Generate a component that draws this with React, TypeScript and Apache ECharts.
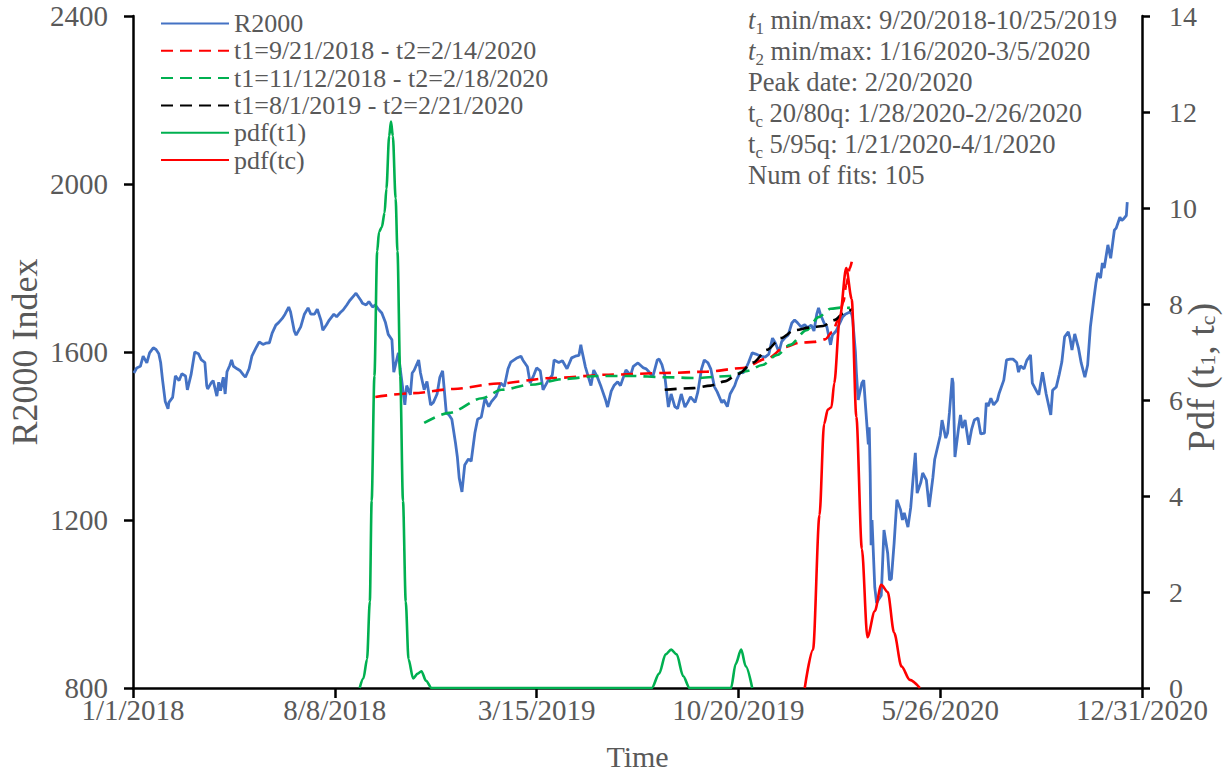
import React, { useEffect, useRef } from "react";
import * as echarts from "echarts";

const FONT = "'Liberation Serif', 'Times New Roman', serif";
const GREY = "#595959";

const seriesNames = [
  "R2000",
  "t1=9/21/2018 - t2=2/14/2020",
  "t1=11/12/2018 - t2=2/18/2020",
  "t1=8/1/2019 - t2=2/21/2020",
  "pdf(t1)",
  "pdf(tc)",
];

const infoLines = [
  "{it|t}{sub|1}{n| min/max: 9/20/2018-10/25/2019}",
  "{it|t}{sub|2}{n| min/max: 1/16/2020-3/5/2020}",
  "{n|Peak date: 2/20/2020}",
  "{n|t}{sub|c}{n| 20/80q: 1/28/2020-2/26/2020}",
  "{n|t}{sub|c}{n| 5/95q: 1/21/2020-4/1/2020}",
  "{n|Num of fits: 105}",
];

const r2000: [string, number][] = [
  ["2018-01-02",1550],["2018-01-05",1562],["2018-01-09",1566],["2018-01-12",1590],["2018-01-16",1574],["2018-01-19",1598],["2018-01-23",1610],["2018-01-26",1606],["2018-01-29",1596],["2018-01-31",1575],["2018-02-02",1535],["2018-02-05",1482],["2018-02-08",1465],["2018-02-09",1480],["2018-02-13",1492],["2018-02-16",1543],["2018-02-20",1532],["2018-02-23",1548],["2018-02-27",1543],["2018-03-01",1510],["2018-03-05",1546],["2018-03-09",1600],["2018-03-13",1596],["2018-03-16",1582],["2018-03-20",1575],["2018-03-22",1520],["2018-03-23",1512],["2018-03-27",1527],["2018-03-29",1532],["2018-04-02",1495],["2018-04-04",1528],["2018-04-06",1508],["2018-04-09",1540],["2018-04-11",1500],["2018-04-13",1553],["2018-04-16",1568],["2018-04-18",1581],["2018-04-20",1566],["2018-04-24",1560],["2018-04-27",1556],["2018-05-01",1545],["2018-05-03",1540],["2018-05-07",1560],["2018-05-10",1590],["2018-05-15",1612],["2018-05-18",1624],["2018-05-22",1618],["2018-05-25",1621],["2018-05-29",1622],["2018-06-01",1645],["2018-06-05",1664],["2018-06-08",1670],["2018-06-12",1680],["2018-06-15",1690],["2018-06-19",1707],["2018-06-21",1695],["2018-06-25",1650],["2018-06-27",1640],["2018-07-02",1660],["2018-07-06",1690],["2018-07-10",1705],["2018-07-13",1690],["2018-07-17",1690],["2018-07-20",1702],["2018-07-24",1675],["2018-07-26",1652],["2018-07-30",1665],["2018-08-02",1676],["2018-08-07",1690],["2018-08-10",1684],["2018-08-14",1694],["2018-08-17",1700],["2018-08-21",1712],["2018-08-24",1722],["2018-08-29",1735],["2018-08-31",1740],["2018-09-05",1724],["2018-09-07",1716],["2018-09-11",1712],["2018-09-14",1720],["2018-09-18",1707],["2018-09-21",1712],["2018-09-25",1700],["2018-09-28",1693],["2018-10-02",1670],["2018-10-05",1642],["2018-10-09",1629],["2018-10-11",1552],["2018-10-16",1598],["2018-10-18",1560],["2018-10-23",1474],["2018-10-25",1520],["2018-10-29",1498],["2018-10-31",1550],["2018-11-02",1556],["2018-11-07",1581],["2018-11-09",1550],["2018-11-13",1510],["2018-11-16",1530],["2018-11-20",1474],["2018-11-23",1480],["2018-11-27",1500],["2018-11-30",1540],["2018-12-03",1555],["2018-12-07",1455],["2018-12-10",1450],["2018-12-13",1440],["2018-12-17",1383],["2018-12-19",1350],["2018-12-21",1300],["2018-12-24",1267],["2018-12-27",1331],["2018-12-31",1345],
  ["2019-01-03",1340],["2019-01-07",1407],["2019-01-10",1440],["2019-01-14",1445],["2019-01-18",1490],["2019-01-22",1470],["2019-01-25",1482],["2019-01-30",1495],["2019-02-04",1526],["2019-02-08",1518],["2019-02-12",1560],["2019-02-15",1576],["2019-02-21",1585],["2019-02-26",1590],["2019-02-28",1581],["2019-03-05",1565],["2019-03-08",1526],["2019-03-12",1545],["2019-03-15",1562],["2019-03-19",1555],["2019-03-22",1510],["2019-03-27",1530],["2019-04-01",1545],["2019-04-03",1581],["2019-04-08",1575],["2019-04-12",1579],["2019-04-17",1560],["2019-04-22",1586],["2019-04-26",1590],["2019-04-30",1592],["2019-05-02",1617],["2019-05-03",1605],["2019-05-07",1564],["2019-05-13",1520],["2019-05-16",1557],["2019-05-20",1540],["2019-05-24",1517],["2019-05-29",1485],["2019-05-31",1469],["2019-06-04",1507],["2019-06-07",1520],["2019-06-11",1529],["2019-06-14",1520],["2019-06-18",1545],["2019-06-20",1557],["2019-06-25",1545],["2019-06-28",1566],["2019-07-03",1574],["2019-07-09",1562],["2019-07-12",1560],["2019-07-16",1550],["2019-07-19",1540],["2019-07-24",1581],["2019-07-26",1583],["2019-07-29",1570],["2019-08-01",1545],["2019-08-05",1469],["2019-08-08",1500],["2019-08-12",1470],["2019-08-15",1465],["2019-08-19",1500],["2019-08-23",1469],["2019-08-26",1480],["2019-08-29",1493],["2019-09-03",1480],["2019-09-06",1505],["2019-09-10",1560],["2019-09-13",1581],["2019-09-17",1574],["2019-09-20",1560],["2019-09-24",1517],["2019-09-27",1505],["2019-10-02",1479],["2019-10-04",1486],["2019-10-08",1470],["2019-10-11",1500],["2019-10-16",1520],["2019-10-18",1533],["2019-10-22",1552],["2019-10-25",1550],["2019-10-28",1560],["2019-10-31",1575],["2019-11-04",1598],["2019-11-08",1595],["2019-11-13",1590],["2019-11-18",1588],["2019-11-22",1595],["2019-11-26",1633],["2019-11-29",1622],["2019-12-03",1600],["2019-12-06",1625],["2019-12-10",1635],["2019-12-13",1640],["2019-12-17",1669],["2019-12-20",1676],["2019-12-23",1670],["2019-12-27",1660],["2019-12-31",1665],
  ["2020-01-03",1658],["2020-01-07",1664],["2020-01-10",1650],["2020-01-13",1690],["2020-01-15",1705],["2020-01-17",1690],["2020-01-21",1669],["2020-01-24",1660],["2020-01-28",1617],["2020-01-30",1640],["2020-02-03",1650],["2020-02-06",1664],["2020-02-10",1683],["2020-02-13",1690],["2020-02-18",1695],["2020-02-20",1690],["2020-02-21",1678],["2020-02-24",1600],["2020-02-25",1552],["2020-02-27",1486],["2020-03-02",1526],["2020-03-04",1533],["2020-03-06",1470],["2020-03-09",1380],["2020-03-10",1421],["2020-03-11",1312],["2020-03-12",1140],["2020-03-13",1200],["2020-03-16",1040],["2020-03-18",1002],["2020-03-20",1010],["2020-03-23",1020],["2020-03-26",1176],["2020-03-30",1121],["2020-04-01",1057],["2020-04-03",1060],["2020-04-06",1145],["2020-04-09",1248],["2020-04-13",1224],["2020-04-15",1200],["2020-04-17",1217],["2020-04-21",1183],["2020-04-24",1230],["2020-04-27",1310],["2020-04-29",1360],["2020-05-01",1264],["2020-05-05",1290],["2020-05-07",1312],["2020-05-11",1295],["2020-05-14",1231],["2020-05-18",1300],["2020-05-20",1344],["2020-05-26",1400],["2020-05-28",1438],["2020-06-01",1395],["2020-06-03",1407],["2020-06-05",1455],["2020-06-08",1538],["2020-06-09",1526],["2020-06-11",1350],["2020-06-15",1420],["2020-06-17",1450],["2020-06-19",1419],["2020-06-22",1438],["2020-06-26",1379],["2020-06-29",1415],["2020-07-02",1438],["2020-07-06",1443],["2020-07-09",1405],["2020-07-13",1407],["2020-07-15",1479],["2020-07-17",1471],["2020-07-20",1490],["2020-07-23",1474],["2020-07-27",1485],["2020-07-29",1502],["2020-08-03",1533],["2020-08-06",1581],["2020-08-10",1583],["2020-08-13",1583],["2020-08-17",1575],["2020-08-19",1552],["2020-08-21",1567],["2020-08-25",1560],["2020-08-28",1580],["2020-09-01",1593],["2020-09-03",1526],["2020-09-08",1505],["2020-09-10",1498],["2020-09-14",1552],["2020-09-18",1500],["2020-09-23",1450],["2020-09-25",1509],["2020-09-29",1517],["2020-10-02",1545],["2020-10-05",1576],["2020-10-08",1636],["2020-10-12",1648],["2020-10-14",1631],["2020-10-16",1605],["2020-10-19",1643],["2020-10-23",1610],["2020-10-26",1574],["2020-10-30",1540],["2020-11-02",1569],["2020-11-05",1660],["2020-11-09",1731],["2020-11-11",1764],["2020-11-13",1788],["2020-11-16",1776],["2020-11-18",1812],["2020-11-20",1800],["2020-11-24",1855],["2020-11-27",1823],["2020-12-01",1890],["2020-12-03",1895],["2020-12-07",1921],["2020-12-09",1913],["2020-12-11",1917],["2020-12-14",1925],["2020-12-15",1957],
];

const fitRed: [string, number][] = [
  ["2018-09-21",1493],["2018-11-01",1502],["2018-12-15",1512],["2019-02-01",1525],["2019-04-01",1538],["2019-06-01",1546],["2019-08-01",1550],["2019-09-15",1553],["2019-10-25",1562],["2019-11-20",1584],["2019-12-10",1612],["2019-12-25",1622],["2020-01-10",1624],["2020-01-22",1630],["2020-01-30",1648],["2020-02-06",1680],["2020-02-11",1720],["2020-02-14",1760],["2020-02-18",1800],["2020-02-20",1815],
];

const fitGreen: [string, number][] = [
  ["2018-11-13",1431],["2018-12-10",1455],["2019-01-15",1490],["2019-02-05",1510],["2019-03-08",1522],["2019-04-15",1536],["2019-05-20",1543],["2019-06-25",1543],["2019-08-01",1540],["2019-09-05",1538],["2019-10-10",1543],["2019-10-30",1555],["2019-11-15",1569],["2019-12-01",1593],["2019-12-15",1617],["2020-01-02",1652],["2020-01-15",1683],["2020-01-28",1703],["2020-02-10",1706],["2020-02-18",1705],
];

const fitBlack: [string, number][] = [
  ["2019-08-01",1510],["2019-09-01",1514],["2019-09-20",1520],["2019-10-05",1530],["2019-10-20",1548],["2019-11-05",1575],["2019-11-20",1605],["2019-12-05",1633],["2019-12-20",1652],["2020-01-05",1658],["2020-01-20",1662],["2020-02-01",1676],["2020-02-12",1693],["2020-02-21",1703],
];

const pdfT1: [string, number][] = [
  ["2018-09-04",0],["2018-09-08",0.2],["2018-09-12",0.6],["2018-09-15",1.8],["2018-09-17",3.9],["2018-09-20",6.5],["2018-09-23",9.1],["2018-09-25",9.5],["2018-09-28",9.6],["2018-10-01",9.9],["2018-10-03",10.4],["2018-10-06",11.5],["2018-10-08",11.8],["2018-10-10",11.5],["2018-10-13",10.2],["2018-10-15",9.1],["2018-10-18",6.5],["2018-10-21",3.9],["2018-10-24",1.8],["2018-10-27",0.6],["2018-11-01",0.2],["2018-11-06",0.3],["2018-11-10",0.35],["2018-11-15",0.15],["2018-11-21",0],
  ["2019-07-18",0],["2019-07-26",0.3],["2019-08-02",0.7],["2019-08-08",0.8],["2019-08-14",0.7],["2019-08-21",0.25],["2019-08-28",0],
  ["2019-10-12",0],["2019-10-17",0.5],["2019-10-23",0.8],["2019-10-28",0.45],["2019-11-04",0],
];

const pdfTc: [string, number][] = [
  ["2019-12-31",0],["2020-01-09",0.8],["2020-01-16",3.6],["2020-01-21",5.5],["2020-01-25",5.8],["2020-01-29",5.85],["2020-02-01",6.35],["2020-02-07",7.7],["2020-02-14",8.75],["2020-02-20",8.1],["2020-02-25",5.65],["2020-03-02",2.9],["2020-03-08",1.06],["2020-03-16",1.6],["2020-03-23",2.15],["2020-03-30",2.0],["2020-04-06",1.15],["2020-04-14",0.45],["2020-04-23",0.17],["2020-05-04",0],
];

const BASE = Date.UTC(2018, 0, 1);
const DAY = 86400000;
function toDay(s: string): number {
  const [y, m, d] = s.split("-").map(Number);
  return (Date.UTC(y, m - 1, d) - BASE) / DAY;
}
function fmtDay(v: number): string {
  const dt = new Date(BASE + Math.round(v) * DAY);
  return `${dt.getUTCMonth() + 1}/${dt.getUTCDate()}/${dt.getUTCFullYear()}`;
}
const pts = (arr: [string, number][]) => arr.map(([d, v]) => [toDay(d), v]);

export default function App() {
  const ref = useRef<HTMLDivElement>(null);
  useEffect(() => {
    if (!ref.current) return;
    const chart = echarts.init(ref.current, undefined, { renderer: "svg" });
    const dash = [12, 7];
    const lineSeries = (
      name: string,
      data: [string, number][],
      color: string,
      yAxisIndex: number,
      dashed: boolean,
      smooth: number | boolean,
      width: number
    ) => ({
      name,
      type: "line",
      yAxisIndex,
      data: pts(data),
      symbol: "none",
      showSymbol: false,
      smooth,
      smoothMonotone: "x",
      lineStyle: { color, width, type: dashed ? dash : "solid" },
      itemStyle: { color },
      emphasis: { disabled: true },
    });
    const option: any = {
      animation: false,
      textStyle: { fontFamily: FONT },
      grid: {
        left: 133,
        right: 83,
        top: 16,
        bottom: 88,
        containLabel: false,
        outerBoundsMode: "none",
      },
      legend: {
        left: 160,
        top: 10,
        orient: "vertical",
        padding: 0,
        itemGap: 0.3,
        itemWidth: 68,
        itemHeight: 14,
        data: seriesNames,
        itemStyle: { opacity: 0 },
        textStyle: { fontSize: 26, color: GREY, fontFamily: FONT, lineHeight: 27 },
      },
      xAxis: {
        type: "value",
        min: 0,
        max: 1095,
        interval: 219,
        name: "Time",
        nameLocation: "middle",
        nameGap: 53,
        nameMoveOverlap: false,
        nameTextStyle: { fontSize: 30, color: GREY, fontFamily: FONT },
        axisLine: { show: true, onZero: false, lineStyle: { color: "#000", width: 2.5 } },
        axisTick: { show: true, length: 10, lineStyle: { color: "#000", width: 2.5 } },
        axisLabel: { fontSize: 29, color: GREY, fontFamily: FONT, margin: 7, formatter: fmtDay },
        splitLine: { show: false },
      },
      yAxis: [
        {
          type: "value",
          position: "left",
          min: 800,
          max: 2400,
          interval: 400,
          name: "R2000 Index",
          nameLocation: "middle",
          nameRotate: 90,
          nameGap: 90,
          nameMoveOverlap: false,
          nameTextStyle: { fontSize: 36, color: GREY, fontFamily: FONT },
          axisLine: { show: true, lineStyle: { color: "#000", width: 2.5 } },
          axisTick: { show: true, length: 9, lineStyle: { color: "#000", width: 2.5 } },
          axisLabel: {
            fontSize: 29,
            color: GREY,
            fontFamily: FONT,
            margin: 25,
            formatter: (v: number) => String(v),
          },
          splitLine: { show: false },
        },
        {
          type: "value",
          position: "right",
          min: 0,
          max: 14,
          interval: 2,
          name: "{n|Pdf (t}{s|1}{n|, t}{s|c}{n|)}",
          nameLocation: "middle",
          nameRotate: 90,
          nameGap: 40,
          nameMoveOverlap: false,
          nameTextStyle: {
            fontSize: 38,
            color: GREY,
            fontFamily: FONT,
            padding: [0, 50, 0, 0],
            rich: {
              n: { fontSize: 38, color: GREY, fontFamily: FONT },
              s: { fontSize: 22, color: GREY, fontFamily: FONT, padding: [12, 0, 0, 0] },
            },
          },
          axisLine: { show: true, lineStyle: { color: "#000", width: 2.5 } },
          axisTick: { show: true, length: 8, lineStyle: { color: "#000", width: 2.5 } },
          axisLabel: { fontSize: 28, color: GREY, fontFamily: FONT, margin: 27 },
          splitLine: { show: false },
        },
      ],
      series: [
        lineSeries(seriesNames[0], r2000, "#4472C4", 0, false, false, 2.8),
        lineSeries(seriesNames[1], fitRed, "#FF0000", 0, true, 0.3, 2.6),
        lineSeries(seriesNames[2], fitGreen, "#00B050", 0, true, 0.3, 2.6),
        lineSeries(seriesNames[3], fitBlack, "#000000", 0, true, 0.3, 2.6),
        lineSeries(seriesNames[4], pdfT1, "#00B050", 1, false, 0.3, 2.6),
        lineSeries(seriesNames[5], pdfTc, "#FF0000", 1, false, 0.3, 2.6),
      ],
      graphic: infoLines.map((t, i) => ({
        type: "text",
        x: 748,
        y: 20 + i * 31,
        silent: true,
        style: {
          text: t,
          align: "left",
          verticalAlign: "middle",
          fill: GREY,
          font: `26.6px ${FONT}`,
          rich: {
            n: { fontSize: 26.6, fontFamily: FONT, fill: GREY },
            it: { fontSize: 26.6, fontFamily: FONT, fontStyle: "italic", fill: GREY },
            sub: { fontSize: 17, fontFamily: FONT, fill: GREY, padding: [16, 0, 0, 0] },
          },
        },
      })),
    };
    chart.setOption(option);
    return () => chart.dispose();
  }, []);
  return (
    <div
      ref={ref}
      style={{ position: "fixed", left: 0, top: 0, width: 1225, height: 776, background: "#fff" }}
    />
  );
}
